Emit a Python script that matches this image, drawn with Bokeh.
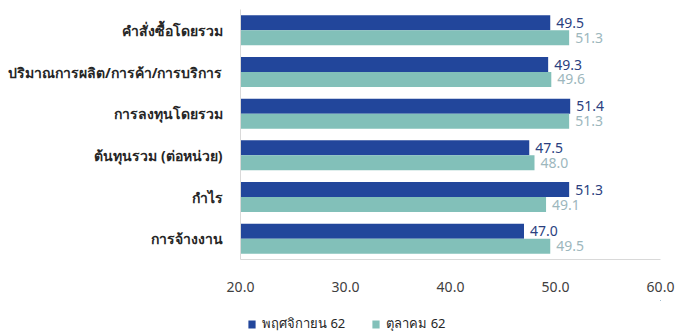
from bokeh.plotting import figure
from bokeh.layouts import column
from bokeh.models import ColumnDataSource, FactorRange, Range1d, FixedTicker, PrintfTickFormatter, Legend, LegendItem
from bokeh.transform import dodge
from bokeh.core.properties import value
from bokeh.embed import file_html
from bokeh.resources import INLINE

categories = ["คำสั่งซื้อโดยรวม", "ปริมาณการผลิต/การค้า/การบริการ", "การลงทุนโดยรวม",
              "ต้นทุนรวม (ต่อหน่วย)", "กำไร", "การจ้างงาน"]
nov62 = [49.5, 49.3, 51.4, 47.5, 51.3, 47.0]
oct62 = [51.3, 49.6, 51.3, 48.0, 49.1, 49.5]
series_names = ["พฤศจิกายน 62", "ตุลาคม 62"]
x_ticks = [20, 30, 40, 50, 60]

BLUE = "#22469b"
TEAL = "#82c0b9"
FONT = "Noto Sans"

src = ColumnDataSource(dict(
    cat=categories, nov=nov62, oct=oct62,
    nov_lbl=[f"{v:.1f}" for v in nov62], oct_lbl=[f"{v:.1f}" for v in oct62],
))

p = figure(width=676, height=300, output_backend="svg", toolbar_location=None,
           y_range=FactorRange(factors=list(reversed(categories))),
           x_range=Range1d(20, 60),
           min_border_left=240, min_border_right=16, min_border_top=9, min_border_bottom=41)

p.hbar(y=dodge("cat", 0.18, range=p.y_range), left=20, right="nov", height=0.36,
       source=src, fill_color=BLUE, line_color=None)
p.hbar(y=dodge("cat", -0.18, range=p.y_range), left=20, right="oct", height=0.36,
       source=src, fill_color=TEAL, line_color=None)

p.text(x="nov", y=dodge("cat", 0.18, range=p.y_range), text="nov_lbl", source=src,
       x_offset=6, text_baseline="middle", text_align="left", text_font=value(FONT),
       text_font_size="14px", text_color="#2b3f7f")
p.text(x="oct", y=dodge("cat", -0.18, range=p.y_range), text="oct_lbl", source=src,
       x_offset=6, text_baseline="middle", text_align="left", text_font=value(FONT),
       text_font_size="14px", text_color="#9db7bd")

p.xgrid.visible = False
p.ygrid.visible = False
p.outline_line_color = None

p.xaxis.ticker = FixedTicker(ticks=x_ticks)
p.xaxis.formatter = PrintfTickFormatter(format="%.1f")
p.xaxis.major_tick_line_color = None
p.xaxis.major_tick_out = 0
p.xaxis.minor_tick_line_color = None
p.xaxis.axis_line_color = "#d9d9d9"
p.xaxis.major_label_standoff = 22
p.xaxis.major_label_text_font = FONT
p.xaxis.major_label_text_font_size = "14px"
p.xaxis.major_label_text_color = "#404040"

p.yaxis.major_tick_line_color = None
p.yaxis.major_tick_out = 0
p.yaxis.minor_tick_line_color = None
p.yaxis.axis_line_color = "#d9d9d9"
p.yaxis.major_label_standoff = 18
p.yaxis.major_label_text_font = FONT
p.yaxis.major_label_text_font_size = "14px"
p.yaxis.major_label_text_font_style = "bold"
p.yaxis.major_label_text_color = "#262626"

# legend strip below the chart (its bars lie outside its visible range; only the legend shows)
lg = figure(width=676, height=31, output_backend="svg", toolbar_location=None,
            x_axis_type=None, y_axis_type=None, x_range=Range1d(0, 1), y_range=Range1d(0, 1),
            min_border=0)
lg.xgrid.visible = False
lg.ygrid.visible = False
lg.outline_line_color = None
g1 = lg.hbar(y="nov", left=20, right="nov", height=0.36, source=src,
             fill_color=BLUE, line_color=None)
g2 = lg.hbar(y="oct", left=20, right="oct", height=0.36, source=src,
             fill_color=TEAL, line_color=None)

legend = Legend(items=[LegendItem(label=series_names[0], renderers=[g1]),
                       LegendItem(label=series_names[1], renderers=[g2])],
                orientation="horizontal", location=(7, -3), border_line_color=None,
                background_fill_alpha=0, glyph_width=9, glyph_height=10,
                label_standoff=6, spacing=26, padding=0, margin=0,
                label_text_font=FONT, label_text_font_size="13px", label_text_color="#262626")
lg.add_layout(legend, "center")

open("out.html", "w").write(file_html(column(p, lg, spacing=0), INLINE))
